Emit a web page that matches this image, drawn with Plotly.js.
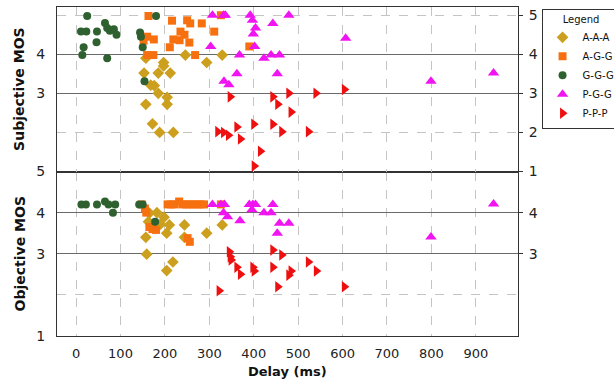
<!DOCTYPE html>
<html><head><meta charset="utf-8">
<script src="https://cdn.plot.ly/plotly-3.0.1.min.js"></script>
<style>html,body{margin:0;padding:0;background:#fff}#chart{width:614px;height:382px}</style>
</head><body><div id="chart"></div>
<script>
// Legend labels
const seriesNames = ['A-A-A', 'A-G-G', 'G-G-G', 'P-G-G', 'P-P-P'];
const xTickVals = [0, 100, 200, 300, 400, 500, 600, 700, 800, 900];

// ---- Subjective MOS (top panel): delay (ms) and MOS ----
const subjAAA_x = [157, 197, 197, 153, 185, 212, 168, 176, 185, 205, 205, 157, 172, 188, 219, 246, 294, 329];
const subjAAA_y = [3.9, 3.79, 3.7, 3.52, 3.52, 3.52, 3.21, 3.2, 3.0, 2.9, 2.72, 2.72, 2.22, 2.0, 2.0, 3.98, 3.79, 3.98];
const subjAGG_x = [163, 160, 152, 175, 160, 174, 216, 250, 257, 283, 235, 244, 255, 233, 219, 211, 311, 268, 390, 326];
const subjAGG_y = [4.98, 4.45, 4.35, 4.38, 3.98, 3.98, 4.86, 4.87, 4.79, 4.79, 4.58, 4.5, 4.3, 4.36, 4.38, 4.18, 4.58, 3.98, 4.2, 5.0];
const subjGGG_x = [25, 11, 23, 47, 46, 17, 14, 65, 70, 76, 85, 91, 70, 144, 146, 150, 180, 154];
const subjGGG_y = [4.98, 4.58, 4.58, 4.58, 4.31, 4.18, 3.98, 4.8, 4.67, 4.6, 4.64, 4.5, 3.9, 4.56, 4.45, 4.18, 4.98, 3.31];
const subjPGG_x = [307, 332, 336, 392, 397, 404, 399, 443, 479, 303, 402, 368, 423, 439, 458, 362, 453, 333, 344, 607, 799, 940];
const subjPGG_y = [5.0, 5.0, 5.0, 5.0, 4.87, 4.67, 4.52, 4.79, 5.0, 4.2, 4.2, 3.98, 3.9, 3.98, 3.98, 3.5, 3.5, 3.31, 3.22, 4.41, 3.31, 3.52];
const subjPPP_x = [347, 443, 454, 479, 484, 319, 332, 343, 362, 370, 400, 443, 463, 415, 401, 540, 604, 523];
const subjPPP_y = [2.91, 2.91, 2.72, 3.0, 2.52, 2.02, 2.0, 1.93, 2.14, 1.83, 2.21, 2.21, 2.02, 1.52, 1.14, 3.0, 3.1, 2.02];

// ---- Objective MOS (bottom panel) ----
const objAAA_x = [165, 182, 163, 170, 190, 198, 210, 204, 157, 159, 244, 244, 218, 204, 294, 329];
const objAAA_y = [3.99, 4.0, 3.78, 3.7, 3.72, 3.89, 3.7, 3.5, 3.4, 2.99, 3.7, 3.4, 2.8, 2.59, 3.5, 3.7];
const objAGG_x = [148, 155, 158, 165, 172, 180, 206, 214, 222, 232, 240, 248, 256, 264, 272, 280, 288, 326, 251, 256];
const objAGG_y = [4.2, 4.1, 4.0, 3.65, 3.6, 3.58, 4.2, 4.2, 4.2, 4.27, 4.2, 4.2, 4.2, 4.2, 4.2, 4.2, 4.2, 4.2, 3.38, 3.29];
const objGGG_x = [12, 22, 47, 65, 73, 88, 83, 142, 150, 178];
const objGGG_y = [4.2, 4.2, 4.2, 4.27, 4.2, 4.2, 4.0, 4.2, 4.2, 3.78];
const objPGG_x = [307, 326, 334, 332, 341, 369, 390, 398, 404, 396, 423, 439, 443, 458, 479, 453, 799, 940];
const objPGG_y = [4.2, 4.2, 4.2, 4.0, 3.9, 3.8, 4.2, 4.2, 4.2, 4.07, 4.0, 4.0, 4.2, 3.74, 3.74, 3.5, 3.41, 4.21];
const objPPP_x = [345, 347, 349, 362, 370, 398, 401, 443, 463, 443, 484, 479, 454, 322, 523, 541, 604];
const objPPP_y = [3.05, 2.93, 2.85, 2.67, 2.5, 2.67, 2.58, 3.09, 2.97, 2.67, 2.58, 2.48, 2.2, 2.1, 2.8, 2.58, 2.2];

const styles = [
  {symbol: 'diamond', color: '#CCA01E', size: 9},
  {symbol: 'square', color: '#F7700F', size: 8},
  {symbol: 'circle', color: '#2F6130', size: 8},
  {symbol: 'triangle-up', color: '#F014F0', size: 10},
  {symbol: 'triangle-right', color: '#EE1010', size: 10}
];
const subjX = [subjAAA_x, subjAGG_x, subjGGG_x, subjPGG_x, subjPPP_x];
const subjY = [subjAAA_y, subjAGG_y, subjGGG_y, subjPGG_y, subjPPP_y];
const objX = [objAAA_x, objAGG_x, objGGG_x, objPGG_x, objPPP_x];
const objY = [objAAA_y, objAGG_y, objGGG_y, objPGG_y, objPPP_y];

// last series is attached to the right-hand axes (same ranges) so they are drawn
const traces = [];
seriesNames.forEach((n, i) => {
  const m = {symbol: styles[i].symbol, color: styles[i].color, size: styles[i].size, line: {width: 0}};
  traces.push({type: 'scatter', mode: 'markers', name: n, legendgroup: n, x: subjX[i], y: subjY[i],
    xaxis: 'x2', yaxis: i === 4 ? 'y3' : 'y2', marker: m, cliponaxis: false});
});
seriesNames.forEach((n, i) => {
  const m = {symbol: styles[i].symbol, color: styles[i].color, size: styles[i].size, line: {width: 0}};
  traces.push({type: 'scatter', mode: 'markers', name: n, legendgroup: n, showlegend: false, x: objX[i], y: objY[i],
    xaxis: 'x', yaxis: i === 4 ? 'y4' : 'y', marker: m, cliponaxis: false});
});

const frame = '#333333';
const solidGrid = '#6a6a6a';
const dashGrid = '#c4c4c4';
const tickFontY = {family: 'DejaVu Sans', size: 14, color: '#222'};
const xRange = [-43, 995];

const layout = {
  width: 614, height: 382,
  margin: {l: 57, r: 96, t: 7, b: 46},
  paper_bgcolor: '#fff', plot_bgcolor: '#fff',
  showlegend: true,
  legend: {
    xref: 'container', yref: 'container',
    x: 0.882, xanchor: 'left', y: 0.977, yanchor: 'top',
    bgcolor: '#fff', bordercolor: '#333', borderwidth: 1,
    font: {family: 'DejaVu Sans', size: 10, color: '#111'},
    title: {text: 'Legend', side: 'top center', font: {family: 'DejaVu Sans', size: 10, color: '#111'}},
    tracegroupgap: 0
  },
  xaxis: {
    domain: [0, 1], anchor: 'y', range: xRange, tickvals: xTickVals,
    showgrid: true, gridcolor: dashGrid, griddash: 'dash', gridwidth: 1,
    zeroline: false, showline: true, linecolor: frame, linewidth: 1, mirror: true,
    ticks: '', ticklabelstandoff: 5,
    tickfont: {family: 'DejaVu Sans', size: 13, color: '#222'}
  },
  xaxis2: {
    domain: [0, 1], anchor: 'y2', matches: 'x', range: xRange, tickvals: xTickVals,
    showgrid: true, gridcolor: dashGrid, griddash: 'dash', gridwidth: 1,
    zeroline: false, showline: true, linecolor: frame, linewidth: 1, mirror: true,
    ticks: '', showticklabels: false
  },
  yaxis: {
    domain: [0, 0.5], anchor: 'x', range: [1, 5],
    tickvals: [1, 3, 4, 5], ticks: '', ticklabelstandoff: 8, tickfont: tickFontY,
    showgrid: true, gridcolor: solidGrid, gridwidth: 1,
    minor: {tickmode: 'array', tickvals: [2], showgrid: true, gridcolor: dashGrid, griddash: 'dash', gridwidth: 1, ticks: ''},
    zeroline: false, showline: true, linecolor: frame, linewidth: 1, mirror: true
  },
  yaxis2: {
    domain: [0.5, 1], anchor: 'x2', range: [1, 5.21],
    tickvals: [3, 4], ticks: '', ticklabelstandoff: 8, tickfont: tickFontY,
    showgrid: true, gridcolor: solidGrid, gridwidth: 1,
    minor: {tickmode: 'array', tickvals: [2, 5], showgrid: true, gridcolor: dashGrid, griddash: 'dash', gridwidth: 1, ticks: ''},
    zeroline: false, showline: true, linecolor: frame, linewidth: 1, mirror: true
  },
  yaxis3: {
    overlaying: 'y2', anchor: 'x2', side: 'right', range: [1, 5.21],
    tickvals: [1, 2, 3, 4, 5], ticks: 'outside', ticklen: 4, tickcolor: frame,
    ticklabelstandoff: 3, tickfont: tickFontY,
    showgrid: false, zeroline: false, showline: false
  },
  yaxis4: {
    overlaying: 'y', anchor: 'x', side: 'right', range: [1, 5],
    tickvals: [3, 4], ticks: 'outside', ticklen: 4, tickcolor: frame,
    ticklabelstandoff: 3, tickfont: tickFontY,
    showgrid: false, zeroline: false, showline: false
  },
  annotations: [
    {text: 'Subjective MOS', xref: 'paper', yref: 'paper', x: -0.081, y: 0.75, xanchor: 'center', yanchor: 'middle', textangle: -90, showarrow: false,
     font: {family: 'DejaVu Sans', size: 14, color: '#111', weight: 'bold'}},
    {text: 'Objective MOS', xref: 'paper', yref: 'paper', x: -0.081, y: 0.25, xanchor: 'center', yanchor: 'middle', textangle: -90, showarrow: false,
     font: {family: 'DejaVu Sans', size: 14, color: '#111', weight: 'bold'}},
    {text: 'Delay (ms)', xref: 'paper', yref: 'paper', x: 0.5, y: -0.107, xanchor: 'center', yanchor: 'middle', showarrow: false,
     font: {family: 'DejaVu Sans', size: 13, color: '#111', weight: 'bold'}}
  ]
};

Plotly.newPlot('chart', traces, layout, {displayModeBar: false, staticPlot: true});
</script>
</body></html>
